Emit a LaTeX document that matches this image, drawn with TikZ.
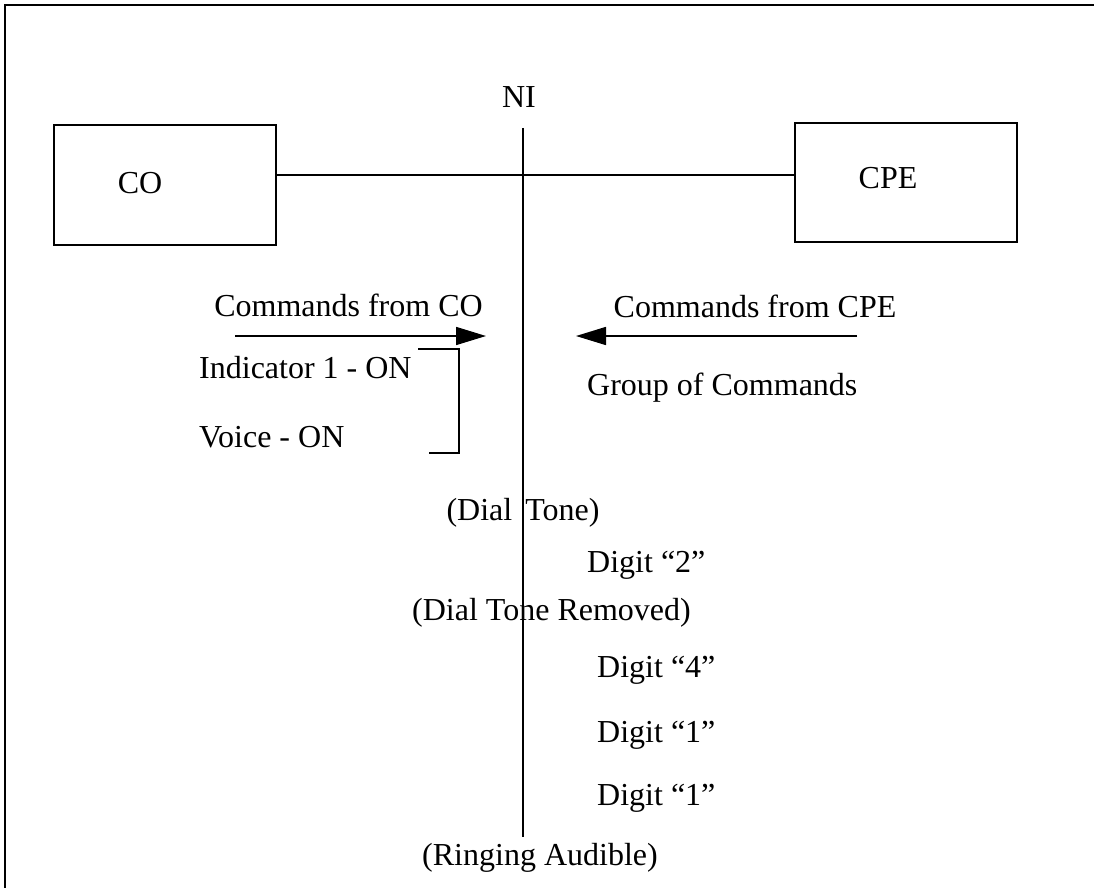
\documentclass[tikz,border=0pt]{standalone}
\usepackage{fontspec}
\setmainfont{Liberation Serif}
\usetikzlibrary{arrows.meta}
\begin{document}
\begin{tikzpicture}[x=1pt,y=-1pt,
  line/.style={draw=black,line width=1.4pt},
  box/.style={draw=black,line width=1.4pt,inner sep=0pt,minimum width=#1},
  lbl/.style={inner sep=0pt,font=\fontsize{32}{38}\selectfont},
  cmdarrow/.style={line width=1.6pt,-{Triangle[length=30pt,width=18pt]}}]
\useasboundingbox (0,0) rectangle (1094,888);
% page frame (left and top edges)
\draw[line width=2pt] (5,888) -- (5,5) -- (1094,5);

% end-point boxes
\node[box=222pt,minimum height=120pt] (co) at (165,185) {};
\node[box=222pt,minimum height=119pt] (cpe) at (906,182.5) {};
\node[lbl,anchor=base] (colbl) at (140,193) {CO};
\node[lbl,anchor=base] (cpelbl) at (888,188) {CPE};

% network interface
\node[lbl,anchor=base] (ni) at (519,107) {NI};
\coordinate (nitop) at (523,128);
\coordinate (nibot) at (523,837);
\coordinate (link) at (523,175);
\draw[line] (co.east |- link) -- (cpe.west |- link);
\draw[line width=1.3pt] (nitop) -- (nibot);

% command directions
\node[lbl,anchor=base] (fromco) at (348.5,316) {Commands from CO};
\node[lbl,anchor=base] (fromcpe) at (755,317) {Commands from CPE};
\coordinate (coA) at (235,336);
\coordinate (coB) at (486,336);
\coordinate (cpeA) at (857,336);
\coordinate (cpeB) at (576,336);
\draw[cmdarrow] (coA) -- (coB);
\draw[cmdarrow] (cpeA) -- (cpeB);

% grouped commands
\node[lbl,anchor=base west] (ind) at (199,378) {Indicator 1 - ON};
\node[lbl,anchor=base west] (voice) at (199,447) {Voice - ON};
\node[lbl,anchor=base west] (group) at (587,395) {Group of Commands};
\coordinate (brA) at (418,349);
\coordinate (brB) at (459,349);
\coordinate (brC) at (459,453);
\coordinate (brD) at (429,453);
\draw[line] (brA) -- (brB) -- (brC) -- (brD);

% call sequence
\node[lbl,anchor=base] (dt) at (523,520) {(Dial\hspace{5pt} Tone)};
\node[lbl,anchor=base west] (d2) at (587,572) {Digit “2”};
\node[lbl,anchor=base] (dtr) at (551.5,620) {(Dial Tone Removed)};
\node[lbl,anchor=base west] (d4) at (597,677) {Digit “4”};
\node[lbl,anchor=base west] (d1a) at (597,742) {Digit “1”};
\node[lbl,anchor=base west] (d1b) at (597,805) {Digit “1”};
\node[lbl,anchor=base] (ring) at (540,865) {(Ringing Audible)};
\end{tikzpicture}
\end{document}
